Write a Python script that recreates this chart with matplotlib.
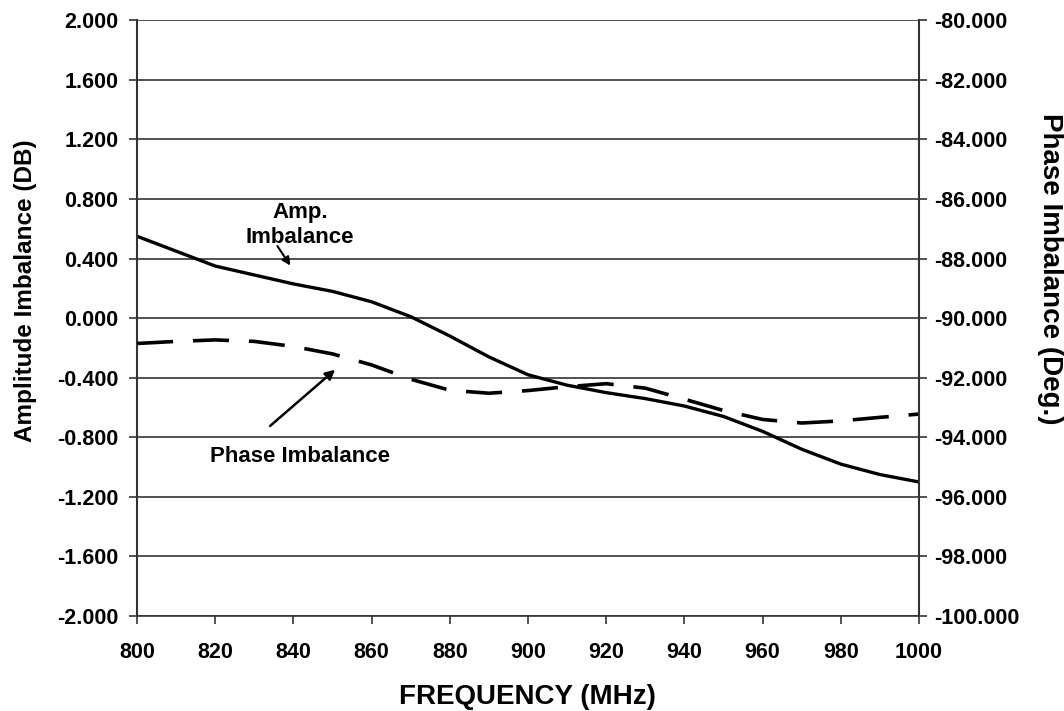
import matplotlib
matplotlib.use("Agg")
import matplotlib.pyplot as plt

plt.rcParams['font.family'] = ['Liberation Sans', 'DejaVu Sans']
plt.rcParams['font.weight'] = 'bold'

# Frequency grid (MHz)
freq = [800, 810, 820, 830, 840, 850, 860, 870, 880, 890, 900,
        910, 920, 930, 940, 950, 960, 970, 980, 990, 1000]

# Amplitude imbalance (dB), left axis
amp_db = [0.55, 0.45, 0.35, 0.29, 0.23, 0.18, 0.11, 0.01, -0.12, -0.26, -0.38,
          -0.45, -0.50, -0.54, -0.59, -0.66, -0.76, -0.88, -0.98, -1.05, -1.10]

# Phase imbalance (deg), right axis
phase_deg = [-90.85, -90.78, -90.73, -90.78, -90.95, -91.20, -91.57, -92.05, -92.42, -92.52, -92.43,
             -92.30, -92.20, -92.35, -92.72, -93.10, -93.40, -93.52, -93.45, -93.33, -93.22]

left_ticks = [-2.0, -1.6, -1.2, -0.8, -0.4, 0.0, 0.4, 0.8, 1.2, 1.6, 2.0]
right_ticks = [-100, -98, -96, -94, -92, -90, -88, -86, -84, -82, -80]
x_ticks = [800, 820, 840, 860, 880, 900, 920, 940, 960, 980, 1000]

fig = plt.figure(figsize=(10.64, 7.11), dpi=100)
ax = fig.add_axes([0.1288, 0.1336, 0.7349, 0.8378])
ax2 = ax.twinx()

ax.set_xlim(800, 1000)
ax.set_ylim(-2.0, 2.0)
ax2.set_ylim(-100, -80)

# horizontal gridlines
ax.set_yticks(left_ticks)
ax.set_yticklabels(["%.3f" % v for v in left_ticks])
ax.yaxis.grid(True, color='#333333', linewidth=1.2)
ax.set_axisbelow(True)
ax.set_xticks(x_ticks)
ax.set_xticklabels([str(v) for v in x_ticks])
ax2.set_yticks(right_ticks)
ax2.set_yticklabels(["%.3f" % v for v in right_ticks])

for a in (ax, ax2):
    a.tick_params(direction='out', length=5.5, width=1.2, color='#333333', labelsize=15.5)
    for s in a.spines.values():
        s.set_visible(False)
ax.tick_params(axis='y', pad=8)
ax.tick_params(axis='x', pad=13)
ax2.tick_params(axis='y', pad=5.5)

ax.spines['left'].set_visible(True)
ax.spines['left'].set_linewidth(1.5)
ax.spines['left'].set_color('#333333')
ax2.spines['right'].set_visible(True)
ax2.spines['right'].set_linewidth(1.5)
ax2.spines['right'].set_color('#333333')
ax.spines['bottom'].set_visible(True)
ax.spines['bottom'].set_linewidth(1.2)
ax.spines['bottom'].set_color('#333333')

ax.plot(freq, amp_db, color='black', linewidth=2.4)
ax2.plot(freq, phase_deg, color='black', linewidth=2.6, dashes=(10, 5.5))

# axis titles
fig.text(0.4958, 0.0197, "FREQUENCY (MHz)", ha='center', va='center', fontsize=20, fontweight='bold')
fig.text(0.0235, 0.5907, "Amplitude Imbalance (DB)", ha='center', va='center',
         rotation=90, fontsize=17.5, fontweight='bold')
fig.text(0.9868, 0.6217, "Phase Imbalance (Deg.)", ha='center', va='center',
         rotation=-90, fontsize=20, fontweight='bold')

# annotations
ax.text(841.7, 0.626, "Amp.\nImbalance", ha='center', va='center', fontsize=16,
        fontweight='bold', linespacing=1.25)
ax.annotate("", xy=(839.6, 0.338), xytext=(835.5, 0.50),
            arrowprops=dict(arrowstyle='-|>', color='black', lw=1.5, mutation_scale=12))
ax.text(841.7, -0.931, "Phase Imbalance", ha='center', va='center', fontsize=16, fontweight='bold')
ax.annotate("", xy=(851.2, -0.334), xytext=(833.5, -0.736),
            arrowprops=dict(arrowstyle='-|>', color='black', lw=1.8, mutation_scale=14))

fig.savefig("out.png", dpi=100)
